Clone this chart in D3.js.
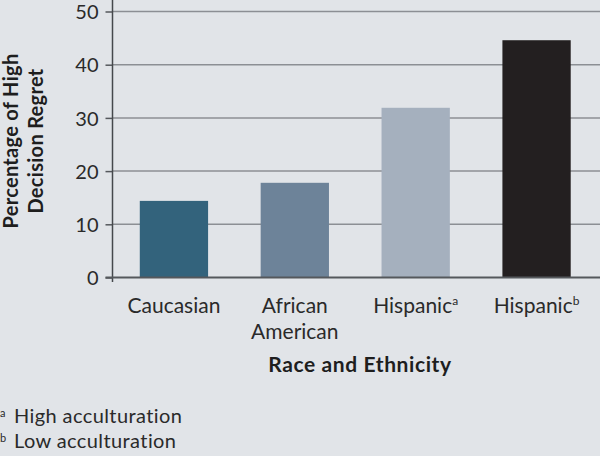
<!DOCTYPE html>
<html>
<head>
<meta charset="utf-8">
<script src="https://cdn.jsdelivr.net/npm/d3@7/dist/d3.min.js"></script>
<style>
  body { margin: 0; background: #e1e4e8; }
  svg { display: block; font-family: Lato, sans-serif; }
</style>
</head>
<body>
<div id="chart"></div>
<script>
'use strict';

var groups = ['Caucasian', 'African American', 'Hispanic a', 'Hispanic b'];
var regret = [14.4, 17.8, 31.9, 44.6];
var barColors = ['#33637c', '#6d8399', '#a5b0be', '#231f20'];
var yTicks = [0, 10, 20, 30, 40, 50];
var notes = [['a', 'High acculturation'], ['b', 'Low acculturation']];

var W = 600, H = 456;
var plotLeft = 112.5, plotRight = 600, plotTop = 11.5, plotBottom = 277.5;

var svg = d3.select('#chart').append('svg')
    .attr('width', W)
    .attr('height', H);

svg.append('rect').attr('width', W).attr('height', H).attr('fill', '#e1e4e8');

var x = d3.scaleBand()
    .domain(groups)
    .range([plotLeft + 1, 597])
    .paddingInner(0.435)
    .paddingOuter(0.2175);

var y = d3.scaleLinear()
    .domain([0, 50])
    .range([plotBottom, plotTop]);

// gridlines
svg.append('g')
    .selectAll('line')
    .data(yTicks.slice(1))
    .enter()
    .append('line')
    .attr('x1', plotLeft)
    .attr('x2', plotRight)
    .attr('y1', function(d) { return y(d); })
    .attr('y2', function(d) { return y(d); })
    .attr('stroke', '#8c8f94')
    .attr('stroke-width', 1.5);

// bars
svg.append('g')
    .selectAll('rect')
    .data(regret)
    .enter()
    .append('rect')
    .attr('x', function(d, i) { return x(groups[i]); })
    .attr('width', x.bandwidth())
    .attr('y', function(d) { return y(d); })
    .attr('height', function(d) { return y(0) - y(d); })
    .attr('fill', function(d, i) { return barColors[i]; });

// y axis
var yAxis = svg.append('g')
    .attr('transform', 'translate(' + plotLeft + ',0)')
    .call(d3.axisLeft(y).tickValues(yTicks).tickSize(7).tickPadding(7));
yAxis.select('.domain').remove();
yAxis.selectAll('.tick line').attr('stroke', '#55585c').attr('stroke-width', 1.5);
yAxis.selectAll('.tick text')
    .attr('font-size', 20)
    .attr('font-family', 'Lato, sans-serif')
    .attr('fill', '#2a2a2a')
    .attr('dy', '0.36em');

svg.append('line')
    .attr('x1', plotLeft).attr('x2', plotLeft)
    .attr('y1', 0).attr('y2', plotBottom + 4.5)
    .attr('stroke', '#45484c').attr('stroke-width', 1.5);

svg.append('line')
    .attr('x1', plotLeft - 7).attr('x2', plotRight)
    .attr('y1', plotBottom).attr('y2', plotBottom)
    .attr('stroke', '#55585c').attr('stroke-width', 2);

// x labels
var labels = svg.append('g')
    .attr('font-size', 21)
    .attr('fill', '#2a2a2a')
    .attr('text-anchor', 'middle');

groups.forEach(function(g, i) {
    var cx = x(g) + x.bandwidth() / 2;
    var parts = g.split(' ');
    var t = labels.append('text').attr('x', cx).attr('y', 313);
    if (parts[1] === 'a' || parts[1] === 'b') {
        t.append('tspan').text(parts[0]);
        t.append('tspan').attr('font-size', 12).attr('dy', -8).text(parts[1]);
    } else if (parts.length > 1) {
        t.text(parts[0]);
        labels.append('text').attr('x', cx).attr('y', 339).text(parts[1]);
    } else {
        t.text(g);
    }
});

svg.append('text')
    .attr('x', 360)
    .attr('y', 372)
    .attr('text-anchor', 'middle')
    .attr('font-size', 21)
    .attr('letter-spacing', 0.6)
    .attr('font-weight', 'bold')
    .attr('fill', '#1e1e1e')
    .text('Race and Ethnicity');

// y title
var yt = svg.append('text')
    .attr('transform', 'translate(0,141) rotate(-90)')
    .attr('text-anchor', 'middle')
    .attr('font-size', 20)
    .attr('letter-spacing', 0.3)
    .attr('font-weight', 'bold')
    .attr('fill', '#1e1e1e');
yt.append('tspan').attr('x', 0).attr('y', 18).text('Percentage of High');
yt.append('tspan').attr('x', 0).attr('y', 43).text('Decision Regret');

// footnotes
notes.forEach(function(n, i) {
    var t = svg.append('text')
        .attr('x', 0)
        .attr('y', 423 + i * 25)
        .attr('fill', '#2a2a2a')
        .attr('font-size', 20)
        .attr('letter-spacing', 0.4);
    t.append('tspan').attr('font-size', 11).attr('dy', -6).text(n[0]);
    t.append('tspan').attr('x', 14).attr('dy', 6).text(n[1]);
});
</script>
</body>
</html>
